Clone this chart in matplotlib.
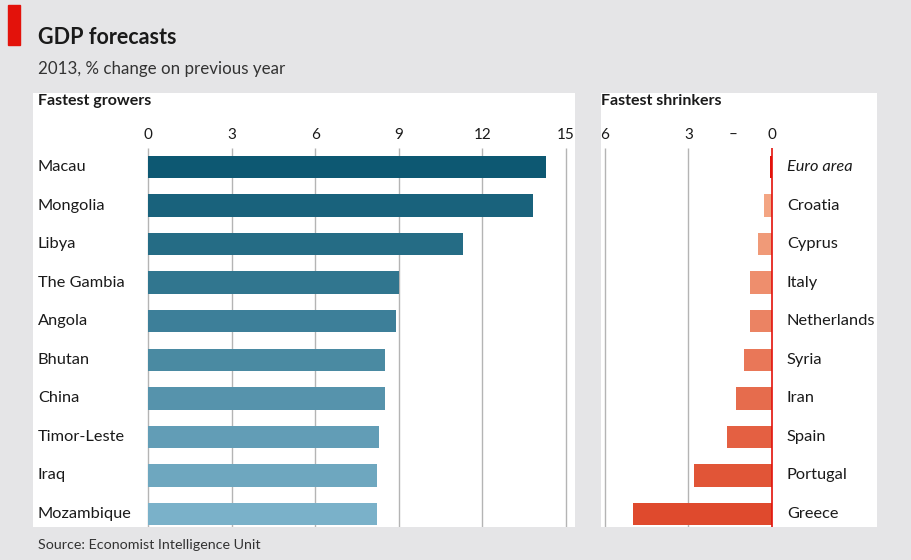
import numpy as np
import matplotlib.pyplot as plt
from matplotlib.colors import LinearSegmentedColormap
from matplotlib.patches import Rectangle

plt.rcParams['font.family'] = ['Lato', 'DejaVu Sans']

# data
growers = ["Macau", "Mongolia", "Libya", "The Gambia", "Angola",
           "Bhutan", "China", "Timor-Leste", "Iraq", "Mozambique"]
growth = [14.3, 13.8, 11.3, 9.0, 8.9, 8.5, 8.5, 8.3, 8.2, 8.2]

shrinkers = ["Euro area", "Croatia", "Cyprus", "Italy", "Netherlands",
             "Syria", "Iran", "Spain", "Portugal", "Greece"]
shrink = [-0.07, -0.3, -0.5, -0.8, -0.8, -1.0, -1.3, -1.6, -2.8, -5.0]

left_ticks = [0, 3, 6, 9, 12, 15]
right_ticks = [-6, -3, -1.4, 0]
right_ticklabels = ["6", "3", "\u2013", "0"]

BG = "#e5e5e7"
GRID = "#b4b4b4"
TXT = "#1a1a1a"

W, H = 912, 560
fig = plt.figure(figsize=(W / 100, H / 100), dpi=100, facecolor=BG)


def px_axes(x0, y0, x1, y1):
    # axes from pixel box (top-left origin), white panel, no frame
    a = fig.add_axes([x0 / W, 1 - y1 / H, (x1 - x0) / W, (y1 - y0) / H])
    a.set_facecolor("white")
    a.set_xticks([])
    a.set_yticks([])
    for s in a.spines.values():
        s.set_visible(False)
    return a


# red tag and titles
fig.patches.append(Rectangle((8 / W, 1 - 45 / H), 12 / W, 40 / H,
                             transform=fig.transFigure, color="#e3120b"))
fig.text(38 / W, 1 - 38 / H, "GDP forecasts", fontsize=15.5, fontweight="bold",
         color=TXT, va="center", ha="left")
fig.text(38 / W, 1 - 69 / H, "2013, % change on previous year", fontsize=12.2,
         color="#333333", va="center", ha="left")
fig.text(38 / W, 1 - 545 / H, "Source: Economist Intelligence Unit", fontsize=10.3,
         color="#333333", va="center", ha="left")

# row layout: first row at y=167 px, step 38.56 px, panels y 93..527
step = 38.56
ytop = (93 - 167) / step
ybot = (527 - 167) / step
grid_frac = (527 - 148) / (527 - 93)
ypos = np.arange(len(growers))

# ---- fastest growers
ax = px_axes(33, 93, 575, 527)
ppu = (566 - 148) / 15
ax.set_xlim((33 - 148) / ppu, (575 - 148) / ppu)
ax.set_ylim(ybot, ytop)

blues = LinearSegmentedColormap.from_list("b", ["#0d5872", "#7ab1c9"])
cols = [blues(i / (len(growers) - 1)) for i in range(len(growers))]
ax.vlines(left_ticks, 0, grid_frac, transform=ax.get_xaxis_transform(),
          color=GRID, lw=1, zorder=1)
ax.barh(ypos, growth, height=0.58, color=cols, zorder=2)
for t in left_ticks:
    ax.text(t, (135 - 167) / step, str(t), ha="center", va="center",
            fontsize=11, color=TXT)
for y, name in zip(ypos, growers):
    ax.text((38 - 148) / ppu, y, name, ha="left", va="center",
            fontsize=11.8, color=TXT)
ax.text((38 - 148) / ppu, (101 - 167) / step, "Fastest growers", ha="left",
        va="center", fontsize=11.5, fontweight="bold", color=TXT)

# ---- fastest shrinkers
ax2 = px_axes(601, 93, 877, 527)
ppu2 = (772 - 605) / 6
ax2.set_xlim((601 - 772) / ppu2, (877 - 772) / ppu2)
ax2.set_ylim(ybot, ytop)

reds = LinearSegmentedColormap.from_list("r", ["#f3a583", "#df4a2d"])
cols2 = ["#e3120b"] + [reds(i / (len(shrinkers) - 2)) for i in range(len(shrinkers) - 1)]
ax2.vlines([-6, -3], 0, grid_frac, transform=ax2.get_xaxis_transform(),
           color=GRID, lw=1, zorder=1)
ax2.barh(ypos, shrink, height=0.58, color=cols2, zorder=2)
ax2.vlines([0], 0, grid_frac, transform=ax2.get_xaxis_transform(),
           color="#e3120b", lw=1.2, zorder=3)
for t, lab in zip(right_ticks, right_ticklabels):
    ax2.text(t, (135 - 167) / step, lab, ha="center", va="center",
             fontsize=11, color=TXT)
for y, name in zip(ypos, shrinkers):
    ax2.text((787 - 772) / ppu2, y, name, ha="left", va="center",
             fontsize=11.8, color=TXT,
             style="italic" if name == "Euro area" else "normal")
ax2.text((601 - 772) / ppu2, (101 - 167) / step, "Fastest shrinkers", ha="left",
         va="center", fontsize=11.5, fontweight="bold", color=TXT)

fig.savefig("out.png", dpi=100, facecolor=BG)
